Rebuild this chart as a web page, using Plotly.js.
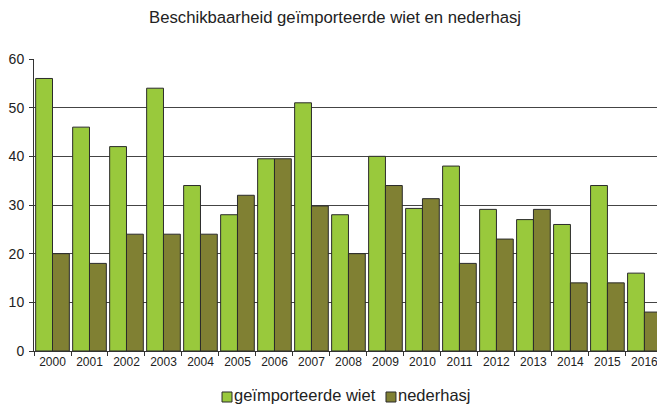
<!DOCTYPE html>
<html>
<head>
<meta charset="utf-8">
<script src="https://cdn.plot.ly/plotly-3.0.1.min.js"></script>
<style>html,body{margin:0;padding:0;background:#fff;}#chart{width:657px;height:407px;}</style>
</head>
<body>
<div id="chart"></div>
<script>
const years = ['2000','2001','2002','2003','2004','2005','2006','2007','2008','2009','2010','2011','2012','2013','2014','2015','2016'];
const wiet = [56, 46, 42, 54, 34, 28, 39.5, 51, 28, 40, 29.3, 38, 29.1, 27, 26, 34, 16];
const hasj = [20, 18, 24, 24, 24, 32, 39.5, 29.8, 20, 34, 31.3, 18, 23, 29.1, 14, 14, 8];
const seriesNames = ['geïmporteerde wiet', 'nederhasj'];
const seriesColors = ['#99C93C', '#808033'];
const yTicks = [0, 10, 20, 30, 40, 50, 60];

const font = {family: 'Liberation Sans, Arial, sans-serif', color: '#222'};
const data = [wiet, hasj].map((vals, i) => ({
  type: 'bar', name: seriesNames[i], x: years, y: vals,
  marker: {color: seriesColors[i], line: {color: '#2b2b2b', width: 1}}
}));

// custom compact legend (square + label), positioned in paper coordinates
const legendX = [[0.3018, 0.3178, 0.3195], [0.565, 0.581, 0.5825]];
const shapes = legendX.map((p, i) => ({
  type: 'rect', xref: 'paper', yref: 'paper', x0: p[0], x1: p[1], y0: -0.1404, y1: -0.1747,
  fillcolor: seriesColors[i], line: {color: '#2b2b2b', width: 1}
}));
const annotations = legendX.map((p, i) => ({
  xref: 'paper', yref: 'paper', x: p[2], y: -0.1507, xanchor: 'left', yanchor: 'middle',
  text: seriesNames[i], showarrow: false, borderpad: 0, font: Object.assign({size: 16.5}, font)
}));

const layout = {
  width: 657, height: 407,
  margin: {l: 34, r: 0, t: 59, b: 56},
  paper_bgcolor: '#fff', plot_bgcolor: '#fff',
  font: Object.assign({size: 12}, font),
  title: {text: 'Beschikbaarheid geïmporteerde wiet en nederhasj', x: 0.51, xanchor: 'center', y: 0.957, yanchor: 'middle', font: Object.assign({size: 16.7}, font)},
  barmode: 'group', bargap: 0.09, bargroupgap: 0,
  xaxis: {type: 'category', range: [-0.5, 16.34], showline: true, linecolor: '#333', linewidth: 1,
          ticks: 'outside', tickson: 'boundaries', ticklen: 4, tickcolor: '#333',
          tickfont: Object.assign({size: 12}, font), showgrid: false, ticklabeloverflow: 'allow', fixedrange: true},
  yaxis: {range: [0, 60], tickvals: yTicks, showline: true, linecolor: '#333', linewidth: 1,
          ticks: 'outside', ticklen: 4, tickcolor: '#333', gridcolor: '#444', gridwidth: 1,
          zeroline: false, tickfont: Object.assign({size: 14}, font), ticklabelstandoff: 2},
  showlegend: false,
  shapes: shapes,
  annotations: annotations
};
Plotly.newPlot('chart', data, layout, {displayModeBar: false, staticPlot: true});
</script>
</body>
</html>
